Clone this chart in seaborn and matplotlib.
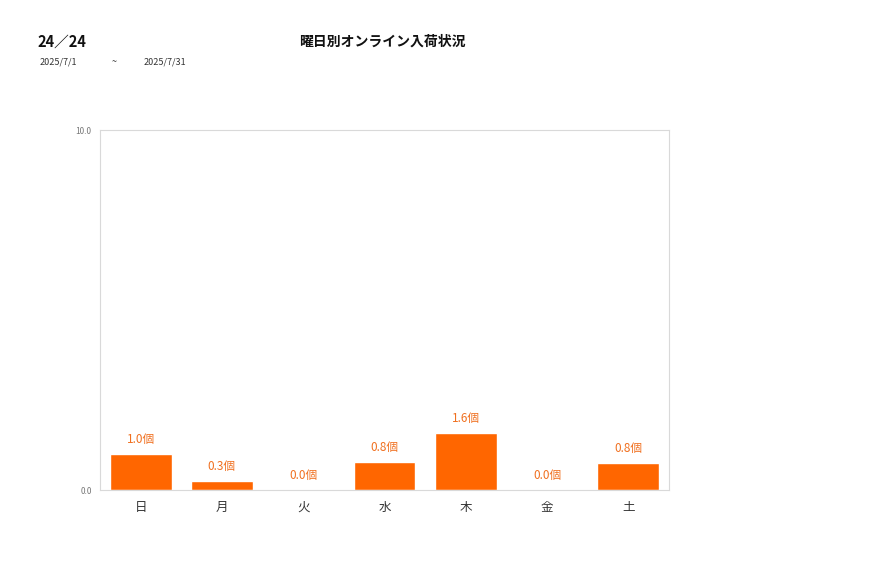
import matplotlib
matplotlib.use("Agg")
import matplotlib.pyplot as plt
import seaborn as sns
import pandas as pd

days = ["日", "月", "火", "水", "木", "金", "土"]
values = [1.0, 0.26, 0.0, 0.78, 1.58, 0.0, 0.75]
y_ticks = [0.0, 10.0]

sns.set_style("white")
plt.rcParams['font.family'] = ['Noto Sans CJK JP', 'DejaVu Sans']

df = pd.DataFrame({"day": days, "value": values})

fig = plt.figure(figsize=(8.77, 5.78), dpi=100)
ax = fig.add_axes([100 / 877, 88 / 578, 569 / 877, 360 / 578])

sns.barplot(data=df, x="day", y="value", color="#FF6600", saturation=1,
            width=0.76, ax=ax)

# 棒の上に値ラベル
for i, v in enumerate(values):
    ax.text(i, v + 0.22, f"{v:.1f}個", ha="center", va="bottom",
            fontsize=8.5, color="#F07020")

ax.set_ylim(0, 10)
ax.set_yticks(y_ticks)
ax.set_yticklabels([f"{t:.1f}" for t in y_ticks], fontsize=6, color="#777777")
ax.tick_params(axis="x", labelsize=9, colors="#333333", length=0, pad=8)
ax.tick_params(axis="y", length=0, pad=6)
ax.set_xlabel("")
ax.set_ylabel("")
for s in ax.spines.values():
    s.set_color("#D9D9D9")
    s.set_linewidth(0.8)

fig.text(37 / 877, 1 - 42 / 578, "24／24", fontsize=10.5, fontweight="bold",
         va="center", ha="left", color="#111111")
fig.text(382 / 877, 1 - 42 / 578, "曜日別オンライン入荷状況", fontsize=10,
         fontweight="bold", va="center", ha="center", color="#111111")
fig.text(40 / 877, 1 - 62 / 578, "2025/7/1", fontsize=6.5, va="center",
         ha="left", color="#333333")
fig.text(112 / 877, 1 - 62 / 578, "~", fontsize=6.5, va="center",
         ha="left", color="#333333")
fig.text(144 / 877, 1 - 62 / 578, "2025/7/31", fontsize=6.5, va="center",
         ha="left", color="#333333")

fig.savefig("out.png", dpi=100, facecolor="white")
